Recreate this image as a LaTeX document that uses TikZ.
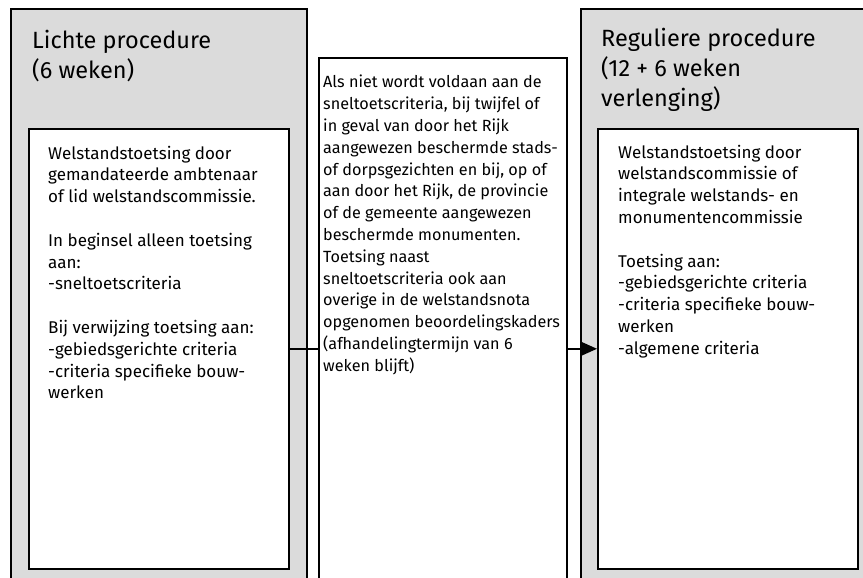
\documentclass[tikz,border=0pt]{standalone}
\usepackage{fontspec}
\setmainfont{Fira Sans}
\usetikzlibrary{arrows.meta}

\begin{document}
\begin{tikzpicture}[x=1pt, y=-1pt,
	box/.style={draw, line width=1.6pt, rectangle, inner sep=0pt, anchor=north west},
	txt/.style={align=left, inner sep=0pt, anchor=north west, font=\fontsize{17}{21.8}\selectfont},
	head/.style={align=left, inner sep=0pt, anchor=north west, font=\fontsize{23.5}{30}\selectfont}]
	\useasboundingbox (0,0) rectangle (863,578);
	\clip (0,0) rectangle (863,578);
				\node[box, fill=black!14, minimum width=296, minimum height=600] (L)at(10, 8) {};
				\node[box, fill=white, minimum width=260, minimum height=440] (LI)at(28, 128) {};
				\node[box, fill=white, minimum width=248, minimum height=560] (M)at(318, 57) {};
				\node[box, fill=black!14, minimum width=300, minimum height=600] (R)at(580, 8) {};
				\node[box, fill=white, minimum width=260, minimum height=440] (RI)at(597, 128) {};
				\node[head] (LH)at(32, 30) {Lichte procedure\\(6 weken)};
				\node[head] (RH)at(601, 28) {Reguliere procedure\\(12 + 6 weken\\verlenging)};
				\node[txt] (LT)at(48, 145.6) {Welstandstoetsing door\\gemandateerde ambtenaar\\of lid welstandscommissie.\\[21.8pt]In beginsel alleen toetsing\\aan:\\-sneltoetscriteria\\[21.8pt]Bij verwijzing toetsing aan:\\-gebiedsgerichte criteria\\-criteria specifieke bouw-\\werken};
				\node[txt, font=\fontsize{16.2}{21.8}\selectfont] (MT)at(323, 75) {Als niet wordt voldaan aan de\\sneltoetscriteria, bij twijfel of\\in geval van door het Rijk\\aangewezen beschermde stads-\\of dorpsgezichten en bij, op of\\aan door het Rijk, de provincie\\of de gemeente aangewezen\\beschermde monumenten.\\Toetsing naast\\sneltoetscriteria ook aan\\overige in de welstandsnota\\opgenomen beoordelingskaders\\(afhandelingtermijn van 6\\weken blijft)};
				\node[txt] (RT)at(618, 144.6) {Welstandstoetsing door\\welstandscommissie of\\integrale welstands- en\\monumentencommissie\\[21.8pt]Toetsing aan:\\-gebiedsgerichte criteria\\-criteria specifieke bouw-\\werken\\-algemene criteria};
				\draw[line width=1.6pt] (LI.east) -- (M.west |- LI.east);
				\draw[->, >={Triangle[length=15pt, width=13pt]}, line width=1.6pt] (M.east |- RI.west) -- (RI.west);
			\end{tikzpicture}
\end{document}
